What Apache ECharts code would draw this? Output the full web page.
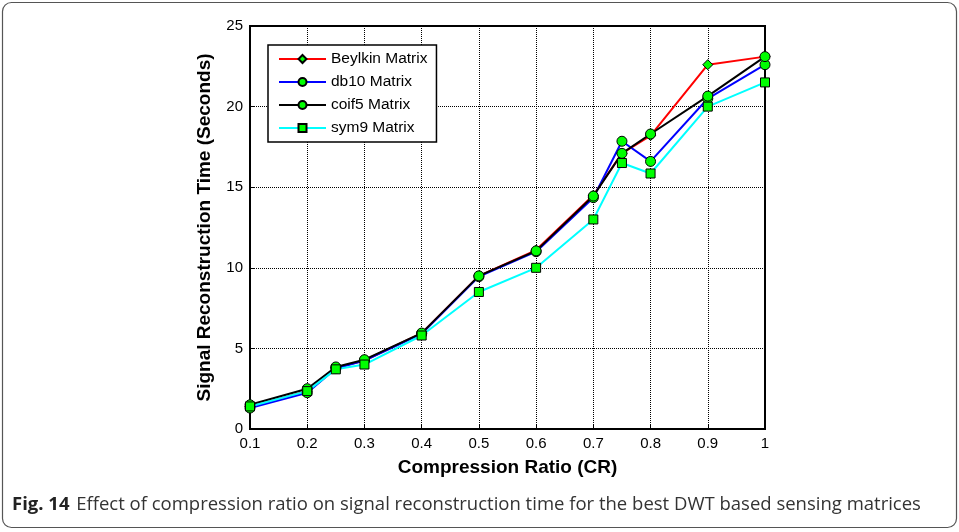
<!DOCTYPE html>
<html>
<head>
<meta charset="utf-8">
<script src="https://cdn.jsdelivr.net/npm/echarts@6/dist/echarts.min.js"></script>
<style>
  html, body { margin: 0; padding: 0; background: #fff; }
  #chart { width: 959px; height: 532px; }
</style>
</head>
<body>
<div id="chart"></div>
<script>
// Compression ratios at which each sensing matrix was evaluated
const compressionRatios = [0.1, 0.2, 0.25, 0.3, 0.4, 0.5, 0.6, 0.7, 0.75, 0.8, 0.9, 1];

// Signal reconstruction time (seconds) per matrix
const beylkin = [1.4, 2.35, 3.8, 4.25, 5.95, 9.5, 11.1, 14.5, 17.1, 18.2, 22.6, 23.1];
const db10    = [1.3, 2.25, 3.75, 4.25, 5.9, 9.45, 11.0, 14.35, 17.85, 16.6, 20.5, 22.6];
const coif5   = [1.5, 2.5, 3.85, 4.3, 5.95, 9.5, 11.05, 14.45, 17.1, 18.3, 20.65, 23.1];
const sym9    = [1.4, 2.35, 3.7, 4.0, 5.8, 8.5, 10.0, 13.0, 16.5, 15.85, 20.0, 21.5];

const seriesNames = ['Beylkin Matrix', 'db10 Matrix', 'coif5 Matrix', 'sym9 Matrix'];

const FONT = '"Liberation Sans", Arial, sans-serif';

function pairs(values) {
  return compressionRatios.map((x, i) => [x, values[i]]);
}

function makeSeries(name, values, color, symbol, size) {
  return {
    name: name,
    type: 'line',
    data: pairs(values),
    symbol: symbol,
    symbolSize: size,
    showAllSymbol: true,
    lineStyle: { color: color, width: 2 },
    itemStyle: { color: '#00ff00', borderColor: '#000', borderWidth: 1 },
    emphasis: { disabled: true },
    animation: false
  };
}

const chart = echarts.init(document.getElementById('chart'), null, { renderer: 'canvas' });

chart.setOption({
  backgroundColor: '#fff',
  animation: false,
  grid: {
    left: 250, right: 194, top: 26, bottom: 103,
    show: true, borderColor: '#000', borderWidth: 2, backgroundColor: 'transparent'
  },
  legend: {
    data: seriesNames,
    orient: 'vertical',
    left: 268, top: 45,
    itemWidth: 47, itemHeight: 10, itemGap: 7,
    padding: [6, 9, 6, 10],
    backgroundColor: '#fff',
    borderColor: '#000', borderWidth: 1.5,
    textStyle: { fontFamily: FONT, fontSize: 15.5, color: '#000' },
    selectedMode: false
  },
  xAxis: {
    type: 'value',
    min: 0.1, max: 1, interval: 0.1,
    name: 'Compression Ratio (CR)',
    nameLocation: 'middle', nameGap: 29,
    nameTextStyle: { fontFamily: FONT, fontSize: 19, fontWeight: 'bold', color: '#000' },
    axisLine: { show: true, onZero: false, lineStyle: { color: '#000', width: 2 } },
    axisTick: { show: true, inside: true, length: 4, lineStyle: { color: '#000' } },
    axisLabel: {
      fontFamily: FONT, fontSize: 15, color: '#000', margin: 7,
      formatter: v => String(Math.round(v * 10) / 10)
    },
    splitLine: { show: true, lineStyle: { color: '#000', type: 'dotted', width: 1 } }
  },
  yAxis: {
    type: 'value',
    min: 0, max: 25, interval: 5,
    name: 'Signal Reconstruction Time (Seconds)',
    nameLocation: 'middle', nameGap: 36,
    nameTextStyle: { fontFamily: FONT, fontSize: 19, fontWeight: 'bold', color: '#000' },
    axisLine: { show: true, lineStyle: { color: '#000', width: 2 } },
    axisTick: { show: true, inside: true, length: 4, lineStyle: { color: '#000' } },
    axisLabel: { fontFamily: FONT, fontSize: 15, color: '#000', margin: 7 },
    splitLine: { show: true, lineStyle: { color: '#000', type: 'dotted', width: 1 } }
  },
  series: [
    makeSeries(seriesNames[0], beylkin, '#ff0000', 'diamond', 10),
    makeSeries(seriesNames[1], db10, '#0000ff', 'circle', 10),
    makeSeries(seriesNames[2], coif5, '#000000', 'circle', 10),
    makeSeries(seriesNames[3], sym9, '#00ffff', 'rect', 9)
  ],
  graphic: [
    {
      type: 'rect',
      silent: true,
      shape: { x: 2.5, y: 2.5, width: 954, height: 525, r: 9 },
      style: { fill: 'none', stroke: '#555', lineWidth: 1.2 },
      z: -1
    },
    {
      type: 'text',
      silent: true,
      left: 12,
      top: 495,
      style: {
        text: '{b|Fig. 14}  {r|Effect of compression ratio on signal reconstruction time for the best DWT based sensing matrices}',
        rich: {
          b: { fontFamily: '"Open Sans", sans-serif', fontSize: 18.5, fontWeight: 'bold', fill: '#222' },
          r: { fontFamily: '"Open Sans", sans-serif', fontSize: 18.5, fill: '#333' }
        }
      }
    }
  ]
});
</script>
</body>
</html>
